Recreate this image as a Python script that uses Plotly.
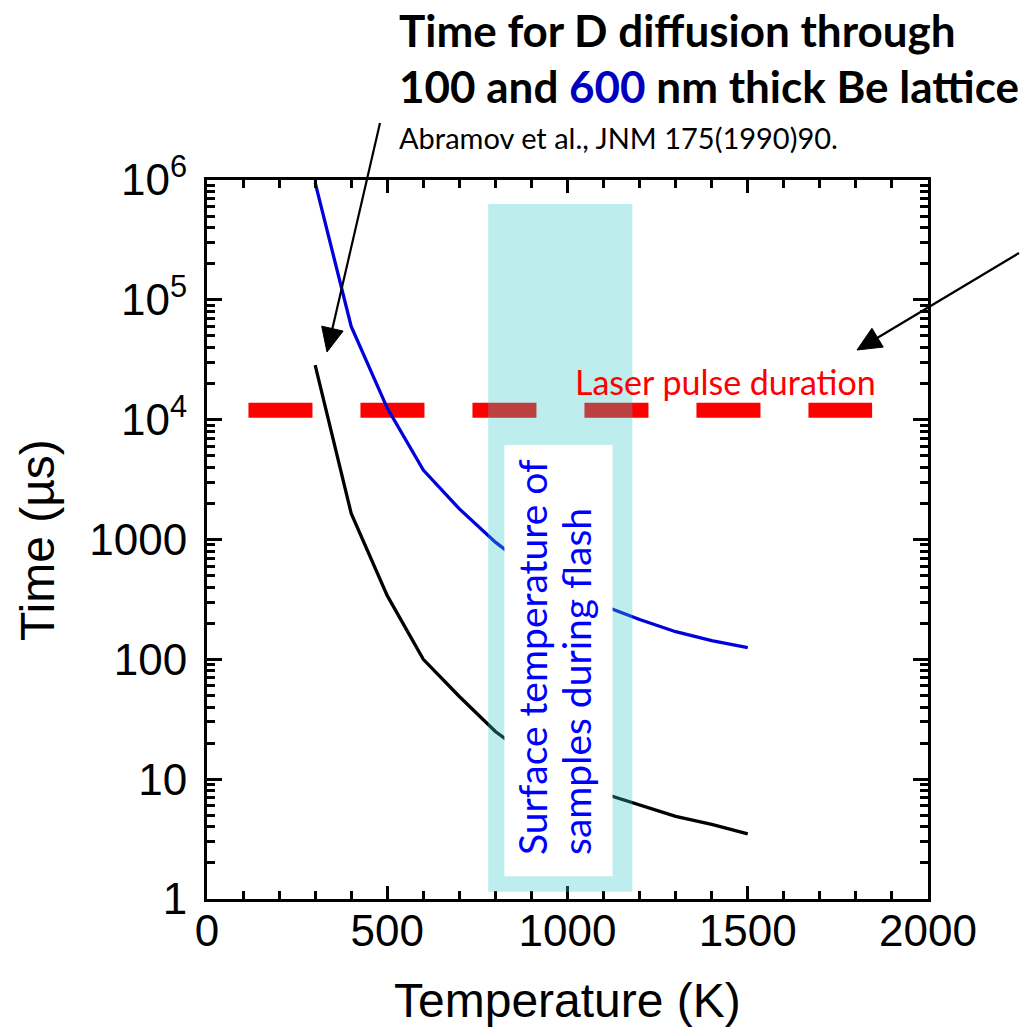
import math
import plotly.graph_objects as go

# Diffusion time of D through Be lattice vs. temperature
temperature_k = [300, 400, 500, 600, 700, 800, 900, 1000, 1100, 1200, 1300, 1400, 1500]
time_100nm_us = [2.85e4, 1650, 340, 100, 49, 25, 15, 10.5, 7.6, 6.1, 4.9, 4.2, 3.5]
time_600nm_us = [9.5e5, 6.0e4, 1.25e4, 3800, 1800, 950, 560, 380, 280, 215, 170, 143, 125]

# Laser pulse duration reference level
laser_pulse_k = [115, 1845]
laser_pulse_us = [1.2e4, 1.2e4]

# Surface temperature band during the flash and its label box
flash_band_k = [780, 1180]
flash_band_us = [1.15, 6.3e5]
label_box_k = [825, 1125]
label_box_us = [1.55, 6150]

# Axis ticks
x_tickvals = [0, 500, 1000, 1500, 2000]
y_tickvals = [1, 10, 100, 1000, 1e4, 1e5, 1e6]
y_ticktext = ["1", "10", "100", "1000", "10<sup>4</sup>", "10<sup>5</sup>", "10<sup>6</sup>"]
y_minor = [m * 10 ** k for k in range(6) for m in range(2, 10)]

W, H = 1020, 1027
ML, MR, MT, MB = 207, 92, 180, 128
PW, PH = W - ML - MR, H - MT - MB


def px(x):
    return (x - ML) / PW


def py(y):
    return (H - MB - y) / PH


fig = go.Figure()

fig.add_trace(go.Scatter(
    x=laser_pulse_k, y=laser_pulse_us, mode="lines",
    line=dict(color="#ff0000", width=15, dash="64px,48px"),
    showlegend=False, hoverinfo="skip",
))
fig.add_trace(go.Scatter(
    x=temperature_k, y=time_600nm_us, mode="lines",
    line=dict(color="#0000dd", width=3.3), showlegend=False,
))
fig.add_trace(go.Scatter(
    x=temperature_k, y=time_100nm_us, mode="lines",
    line=dict(color="#000000", width=3.3), showlegend=False,
))

fig.add_shape(type="rect", xref="x", yref="y",
              x0=flash_band_k[0], x1=flash_band_k[1],
              y0=flash_band_us[0], y1=flash_band_us[1],
              fillcolor="rgba(50,200,200,0.32)", line=dict(width=0), layer="above")
fig.add_shape(type="rect", xref="x", yref="y",
              x0=label_box_k[0], x1=label_box_k[1],
              y0=label_box_us[0], y1=label_box_us[1],
              fillcolor="#ffffff", line=dict(width=0), layer="above")


def add_arrow(tail, tip, head_len=24, head_half=11):
    """Straight pointer with a filled triangular head, given in page pixels."""
    (x0, y0), (x1, y1) = tail, tip
    d = math.hypot(x1 - x0, y1 - y0)
    ux, uy = (x1 - x0) / d, (y1 - y0) / d
    bx, by = x1 - ux * head_len, y1 - uy * head_len
    nx, ny = -uy, ux
    fig.add_shape(type="line", xref="paper", yref="paper",
                  x0=px(x0), y0=py(y0), x1=px(bx + ux * 2), y1=py(by + uy * 2),
                  line=dict(color="black", width=2.2), layer="above")
    path = "M{},{} L{},{} L{},{} Z".format(
        px(x1), py(y1),
        px(bx + nx * head_half), py(by + ny * head_half),
        px(bx - nx * head_half), py(by - ny * head_half))
    fig.add_shape(type="path", xref="paper", yref="paper", path=path,
                  fillcolor="black", line=dict(color="black", width=1), layer="above")


# pointers to the 100 nm curve and to the laser pulse level
add_arrow((380, 123), (327, 352))
add_arrow((1019, 253), (857, 350))

arial = "Liberation Sans"
calibri_like = "Lato"

axis_common = dict(
    showline=True, linecolor="black", linewidth=3, mirror="allticks",
    ticks="inside", tickcolor="black", tickwidth=3,
    showgrid=False, zeroline=False,
    tickfont=dict(family=arial, size=44, color="black"),
)

fig.update_xaxes(
    range=[0, 2000], tickvals=x_tickvals, ticklen=13, ticklabelstandoff=-9,
    minor=dict(ticks="inside", ticklen=8, tickwidth=3, tickcolor="black", dtick=100),
    **axis_common,
)
fig.update_yaxes(
    type="log", range=[0, 6], tickvals=y_tickvals, ticktext=y_ticktext,
    ticklen=15, ticklabelstandoff=8,
    minor=dict(ticks="inside", ticklen=8, tickwidth=3, tickcolor="black", tickvals=y_minor),
    **axis_common,
)

annotations = [
    dict(x=px(397), y=py(30), text="<b>Time for D diffusion through</b>",
         xanchor="left", yanchor="middle", font=dict(family=calibri_like, size=44, color="black")),
    dict(x=px(397), y=py(86),
         text="<b>100 and <span style='color:#0000c0'>600</span> nm thick Be lattice</b>",
         xanchor="left", yanchor="middle", font=dict(family=calibri_like, size=44, color="black")),
    dict(x=px(397), y=py(138), text="Abramov et al., JNM 175(1990)90.",
         xanchor="left", yanchor="middle", font=dict(family=calibri_like, size=29, color="black")),
    dict(x=px(725), y=py(381), text="Laser pulse duration",
         xanchor="center", yanchor="middle", font=dict(family=calibri_like, size=34, color="#ff0000")),
    dict(x=px(532), y=py(657), text="Surface temperature of", textangle=-90,
         xanchor="center", yanchor="middle", font=dict(family=calibri_like, size=39, color="#0000ff")),
    dict(x=px(576), y=py(682), text="samples during flash", textangle=-90,
         xanchor="center", yanchor="middle", font=dict(family=calibri_like, size=39, color="#0000ff")),
    dict(x=px(567), y=py(1000), text="Temperature (K)",
         xanchor="center", yanchor="middle", font=dict(family=arial, size=48, color="black")),
    dict(x=px(37), y=py(540), text="Time (µs)", textangle=-90,
         xanchor="center", yanchor="middle", font=dict(family=arial, size=48, color="black")),
]
for a in annotations:
    a["xref"] = "paper"
    a["yref"] = "paper"
    a["showarrow"] = False
fig.update_layout(annotations=annotations)

fig.update_layout(
    width=W, height=H,
    margin=dict(l=ML, r=MR, t=MT, b=MB, pad=0),
    paper_bgcolor="white", plot_bgcolor="white",
    showlegend=False,
)

fig.write_html("out.html")
